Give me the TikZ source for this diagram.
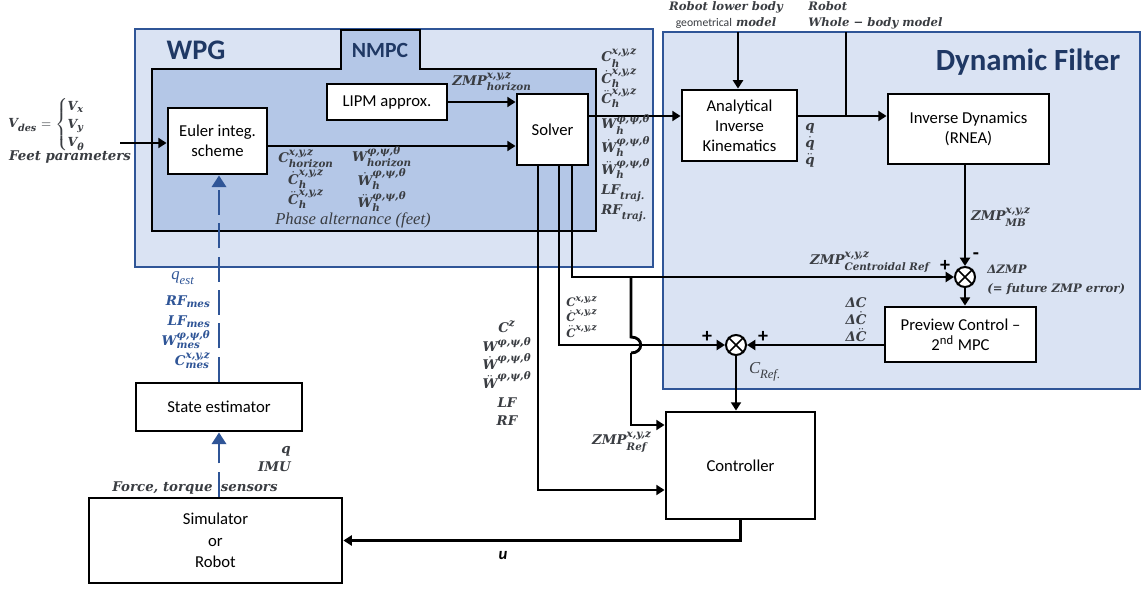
\documentclass[tikz,border=0pt]{standalone}
\usepackage{amsmath}
\usepackage{fontspec}
\setmainfont{Carlito}
\newfontfamily\lblfont{DejaVu Serif}
\newfontfamily\itlfont{Liberation Serif}
\usetikzlibrary{arrows.meta, positioning, calc}
\DeclareMathSizes{8}{8}{6.2}{5}
\DeclareMathSizes{7.5}{7.5}{5.8}{4.8}
\DeclareMathSizes{7}{7}{5.4}{4.5}
\DeclareMathSizes{10}{10}{7.6}{6}
\definecolor{wpgfill}{HTML}{DAE3F3}
\definecolor{nmpcfill}{HTML}{B4C7E7}
\definecolor{frameblue}{HTML}{2F5597}
\definecolor{titleblue}{HTML}{1F3864}
\definecolor{lblgray}{HTML}{3A3D42}
% main symbol, superscript, subscript
\newcommand{\lsx}[3]{$\text{#1}^{\text{#2}}_{\text{#3}}$}
\newcommand{\lsxd}[3]{$\dot{\text{#1}}^{\text{#2}}_{\text{#3}}$}
\newcommand{\lsxdd}[3]{$\ddot{\text{#1}}^{\text{#2}}_{\text{#3}}$}
\tikzstyle{arrow}=[-{Triangle[length=5pt,width=6pt]}, line width=1.7pt, color=black]
\tikzstyle{wire}=[line width=1.7pt, color=black]
\tikzstyle{darrow}=[-{Triangle[length=7pt,width=8.5pt]}, line width=1.7pt, dash pattern=on 15pt off 5pt, color=frameblue]

\begin{document}
\begin{tikzpicture}[x=0.6pt, y=-0.6pt,
  blockbox/.style={rectangle, draw=black, fill=white, line width=1.7pt,
                   align=center, inner sep=2pt, font=\fontsize{10}{12}\selectfont},
  mlabel/.style={text=lblgray, align=center, inner sep=0pt,
                 font=\lblfont\bfseries\itshape\fontsize{8}{12}\selectfont},
  lsize/.style 2 args={font=\lblfont\bfseries\itshape\fontsize{#1}{#2}\selectfont},
  ilabel/.style={text=lblgray, inner sep=0pt, font=\itlfont\itshape\fontsize{10}{12}\selectfont},
  sumnode/.style={circle, draw=black, fill=white, line width=1.2pt,
                  minimum size=12pt, inner sep=0pt},
  signlbl/.style={inner sep=0pt, font=\fontsize{12}{12}\selectfont\bfseries},
  titlelbl/.style={text=titleblue, inner sep=0pt}
]
\fill[white] (0,0) rectangle (1142,590);
\useasboundingbox (0,0) rectangle (1142,590);

% containers
\draw[draw=frameblue, fill=wpgfill, line width=0.9pt] (135,29) rectangle (653,267);
\draw[draw=frameblue, fill=wpgfill, line width=0.9pt] (663,32) rectangle (1140,389);
\draw[line width=1.7pt, fill=nmpcfill] (152,69) -- (341,69) -- (341,30) -- (420,30)
  -- (420,69) -- (596,69) -- (596,231) -- (152,231) -- cycle;

\node[titlelbl, font=\fontsize{17}{20}\selectfont\bfseries] (wpgtitle) at (196,50) {WPG};
\node[titlelbl, font=\fontsize{13}{16}\selectfont\bfseries] (nmpctitle) at (380,50) {NMPC};
\node[titlelbl, font=\fontsize{18.5}{22}\selectfont\bfseries] (dftitle) at (1028,62) {Dynamic Filter};

% blocks
\node[blockbox, minimum width=59.4pt, minimum height=39.6pt] (euler) at (217.5,141) {Euler integ.\\scheme};
\node[blockbox, minimum width=72pt, minimum height=21.6pt] (lipm) at (387,102) {LIPM approx.};
\node[blockbox, minimum width=42.6pt, minimum height=42.6pt] (solver) at (552.5,129.5) {Solver};
\node[blockbox, minimum width=69pt, minimum height=42.6pt] (ik) at (739.5,125.5) {Analytical\\Inverse\\Kinematics};
\node[blockbox, minimum width=96.6pt, minimum height=42pt] (invdyn) at (968.5,129) {Inverse Dynamics\\(RNEA)};
\node[blockbox, minimum width=90.6pt, minimum height=33pt] (preview) at (960.5,334.5) {Preview Control --\\2\textsuperscript{nd} MPC};
\node[blockbox, minimum width=89.4pt, minimum height=64.2pt] (controller) at (740.5,465.5) {Controller};
\node[blockbox, minimum width=99.6pt, minimum height=28.8pt] (estimator) at (219,407) {State estimator};
\node[blockbox, minimum width=151.8pt, minimum height=51pt] (simulator) at (215.5,540.5) {Simulator\\[1pt]or\\[1pt]Robot};
\node[sumnode] (sum1) at (965,277) {};
\node[sumnode] (sum2) at (736,345) {};
\draw[line width=1pt] (sum1.north east) -- (sum1.south west) (sum1.north west) -- (sum1.south east);
\draw[line width=1pt] (sum2.north east) -- (sum2.south west) (sum2.north west) -- (sum2.south east);

% free ends and bends
\coordinate (vin) at (120,143);
\coordinate (lbtop) at (738,32);
\coordinate (wbtop) at (846,32);
\coordinate (ikout) at ([yshift=5.7pt]ik.east);
\coordinate (solout) at ([yshift=8.1pt]solver.east);
\coordinate (sa) at ([xshift=-8.7pt]solver.south);
\coordinate (sb) at ([xshift=3.9pt]solver.south);
\coordinate (sc) at ([xshift=11.7pt]solver.south);
\coordinate (zsplit) at (631,277);
\coordinate (hopA) at (631,337);
\coordinate (hopB) at (631,353);

% connectors
\draw[arrow] (vin) -- (vin -| euler.west);
\draw[arrow] ([yshift=-3pt]euler.east) -- ([yshift=-3pt]euler.east -| solver.west);
\draw[arrow] (lipm.east) -- (lipm.east -| solver.west);
\draw[arrow] (solout) -- (solout -| ik.west);
\draw[arrow] (ikout) -- (ikout -| invdyn.west);
\draw[wire] (wbtop) -- (wbtop |- ikout);
\draw[arrow] (lbtop) -- (lbtop |- ik.north);
\draw[arrow] (invdyn.south -| sum1) -- (sum1.north);
\draw[arrow] (sa) |- ([yshift=-14.7pt]controller.west);
\draw[arrow] (sb) |- (sum2.west);
\draw[arrow] (sc) |- (sum1.west);
\draw[wire] (zsplit) -- (hopA) .. controls +(13,0) and +(13,0) .. (hopB);
\draw[arrow] (hopB) |- ([yshift=24.3pt]controller.west);
\draw[arrow] (sum1.south) -- (sum1 |- preview.north);
\draw[arrow] (preview.west |- sum2) -- (sum2.east);
\draw[arrow] (sum2.south) -- (sum2 |- controller.north);
\draw[arrow] (controller.south) |- (simulator.east);
\draw[darrow] (estimator.north) -- (estimator.north |- euler.south);
\draw[darrow] (simulator.north -| estimator) -- (estimator.south);

% labels
\node[mlabel, anchor=west, lsize={7.5}{9}] (vdes) at (8,125) {\renewcommand{\arraystretch}{0.8}$\text{V}_{\text{des}} = \begin{cases} \text{V}_{\text{x}}\\ \text{V}_{\text{y}}\\ \text{V}_{\text{θ}} \end{cases}$};
\node[mlabel] (feet) at (70,157) {Feet parameters};
\node[mlabel] (hzmp) at (492,82) {\lsx{ZMP}{x,y,z}{horizon}};
\node[mlabel] (hcom) at (306,179) {\lsx{C}{x,y,z}{horizon}\\\lsxd{C}{x,y,z}{h}\\\lsxdd{C}{x,y,z}{h}};
\node[mlabel] (hang) at (382,179) {\lsx{W}{φ,ψ,θ}{horizon}\\\lsxd{W}{φ,ψ,θ}{h}\\\lsxdd{W}{φ,ψ,θ}{h}};
\node[ilabel] (phase) at (353,220) {Phase alternance (feet)};
\node[mlabel, align=left, anchor=west] (soltop) at (601,78) {\lsx{C}{x,y,z}{h}\\\lsxd{C}{x,y,z}{h}\\\lsxdd{C}{x,y,z}{h}};
\node[mlabel, align=left, anchor=west] (solbot) at (601,168) {\lsx{W}{φ,ψ,θ}{h}\\\lsxd{W}{φ,ψ,θ}{h}\\\lsxdd{W}{φ,ψ,θ}{h}\\\lsx{LF}{}{traj.}\\\lsx{RF}{}{traj.}};
\node[mlabel, lsize={7}{9.6}] (lowbody) at (726,15) {Robot lower body\\{\normalfont\fontsize{7}{9.6}\selectfont geometrical} model};
\node[mlabel, align=left, anchor=west, lsize={7}{9.6}] (wholebody) at (808,15) {Robot\\Whole − body model};
\node[mlabel, lsize={8}{10.2}] (qvec) at (810,145) {q\\$\dot{\text{q}}$\\$\ddot{\text{q}}$};
\node[mlabel] (zmpmb) at (1001,217) {\lsx{ZMP}{x,y,z}{MB}};
\node[mlabel] (zmpcr) at (870,262) {\lsx{ZMP}{x,y,z}{Centroidal Ref}};
\node[signlbl] (plus1) at (945,266) {+};
\node[signlbl] (minus1) at (976,256) {-};
\node[mlabel, align=left, anchor=west, lsize={7}{11.4}] (dzmp) at (987,279.5) {ΔZMP\\(= future ZMP error)};
\node[mlabel, lsize={8}{10.2}] (dcom) at (856,320) {ΔC\\Δ$\dot{\text{C}}$\\Δ$\ddot{\text{C}}$};
\node[signlbl] (plus2) at (707,337) {+};
\node[signlbl] (plus3) at (763,337) {+};
\node[ilabel] (cref) at (765,372) {\lsx{C}{}{Ref.}};
\node[mlabel, align=left, anchor=west, lsize={7}{9.4}] (cxyz) at (566,317) {$\text{C}^{\text{x,y,z}}$\\$\dot{\text{C}}^{\text{x,y,z}}$\\$\ddot{\text{C}}^{\text{x,y,z}}$};
\node[mlabel, lsize={8}{11.2}] (ctrlin) at (507,373.5) {$\text{C}^{\text{z}}$\\$\text{W}^{\text{φ,ψ,θ}}$\\$\dot{\text{W}}^{\text{φ,ψ,θ}}$\\$\ddot{\text{W}}^{\text{φ,ψ,θ}}$\\LF\\RF};
\node[mlabel] (zmpref) at (622,442) {\lsx{ZMP}{x,y,z}{Ref}};
\node[ilabel, text=frameblue] (qest) at (183,278) {$\text{q}_{\text{est}}$};
\node[mlabel, text=frameblue, align=right, anchor=east] (mes) at (211,332.5) {$\text{RF}_{\text{mes}}$\\$\text{LF}_{\text{mes}}$\\\lsx{W}{φ,ψ,θ}{mes}\\\lsx{C}{x,y,z}{mes}};
\node[mlabel, align=right, anchor=east, lsize={8}{10.8}] (sens) at (291,459) {q\\IMU};
\node[mlabel] (force) at (195,488) {Force, torque\hspace{5pt}sensors};
\node[inner sep=0pt, font=\fontsize{10}{12}\selectfont\bfseries\itshape] (ulbl) at (503,556) {u};
\end{tikzpicture}
\end{document}
